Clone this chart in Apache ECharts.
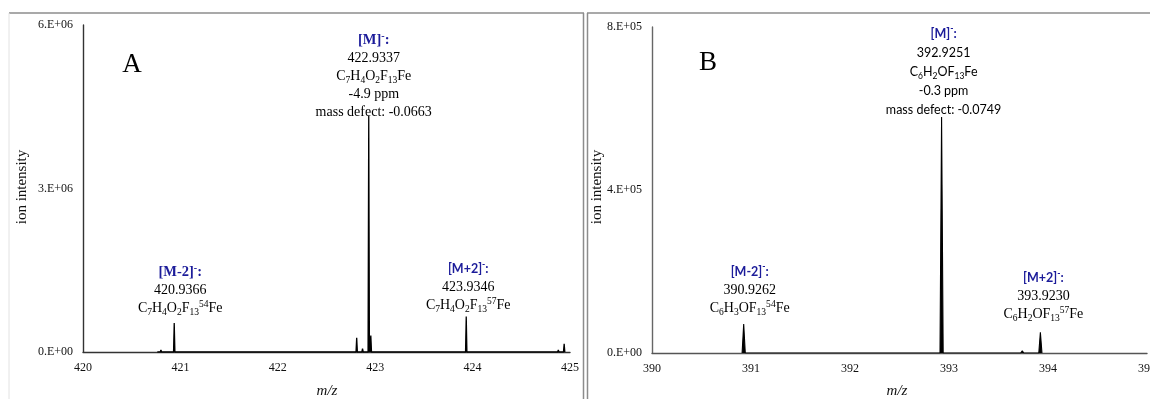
<!DOCTYPE html>
<html>
<head>
<meta charset="utf-8">
<title>Fe adduct spectra</title>
<script src="https://cdn.jsdelivr.net/npm/echarts@6/dist/echarts.min.js"></script>
<style>
  html, body { margin: 0; padding: 0; background: #fff; }
  #chart { width: 1150px; height: 399px; }
</style>
</head>
<body>
<div id="chart"></div>
<script>
// ---- panel A data (m/z, ion intensity) ----
const mzA = [420.77, 420.80, 420.9366, 421.98, 422.81, 422.87, 422.9337, 422.955, 423.9346, 424.80, 424.88, 424.94];
const intensityA = [30000, 40000, 530000, 30000, 260000, 60000, 4330000, 300000, 650000, 30000, 40000, 150000];
const xTicksA = [420, 425];
const yTicksA = [0, 6000000];

// annotated peaks in A
const labelMzA = [420.9366, 422.9337, 423.9346];
const ionA = ["M-2", "M", "M+2"];
const formulaA = ["C7H4O2F13^54Fe", "C7H4O2F13Fe", "C7H4O2F13^57Fe"];
const ppmA = ["", "-4.9 ppm", ""];
const defectA = ["", "-0.0663", ""];

// ---- panel B data ----
const mzB = [390.9262, 392.9251, 393.74, 393.9230];
const intensityB = [71000, 579000, 5000, 51000];
const xTicksB = [390, 395];
const yTicksB = [0, 800000];

const labelMzB = [390.9262, 392.9251, 393.9230];
const ionB = ["M-2", "M", "M+2"];
const formulaB = ["C6H3OF13^54Fe", "C6H2OF13Fe", "C6H2OF13^57Fe"];
const ppmB = ["", "-0.3 ppm", ""];
const defectB = ["", "-0.0749", ""];

const SERIF = "Liberation Serif";
const SANS = "Lato";
const BLUE = "#1c1c9a";

// profile peaks: each peak drawn as a thin triangle from the baseline
function spectrum(mz, ints, hw) {
  let d = [];
  mz.forEach((m, i) => {
    d.push([m - hw, 0], [m, ints[i]], [m + hw, 0]);
  });
  return d;
}

function sci(v) {
  if (v === 0) return "0.E+00";
  let e = Math.floor(Math.log10(v));
  let m = Math.round(v / Math.pow(10, e));
  return m + ".E+" + String(e).padStart(2, "0");
}

// "C7H4O2F13^54Fe" -> rich tokens, digits after letters are subscripts, ^nn superscript
function formulaRich(f, s) {
  let out = "";
  let re = /\^(\d+)|([A-Za-z]+)|(\d+)/g;
  let m;
  while ((m = re.exec(f))) {
    if (m[1]) out += "{sup" + s + "|" + m[1] + "}";
    else if (m[2]) out += "{t" + s + "|" + m[2] + "}";
    else out += "{sub" + s + "|" + m[3] + "}";
  }
  return out;
}

function header(ion, s) {
  return "{hd" + s + "|[" + ion + "]}{hs" + s + "|-}{hd" + s + "|:}";
}

function richSet(family, size, lh) {
  return {
    t: { fontFamily: family, fontSize: size, lineHeight: lh, color: "#000", align: "center" },
    sub: { fontFamily: family, fontSize: size * 0.68, lineHeight: 11, verticalAlign: "bottom", color: "#000", align: "center" },
    sup: { fontFamily: family, fontSize: size * 0.68, lineHeight: 11, verticalAlign: "top", color: "#000", align: "center" },
  };
}

function headerSet(family, size, lh) {
  return {
    hd: { fontFamily: family, fontSize: size, fontWeight: "bold", lineHeight: lh, color: BLUE, align: "center" },
    hs: { fontFamily: family, fontSize: size * 0.7, fontWeight: "bold", lineHeight: 11, verticalAlign: "top", color: BLUE, align: "center" },
  };
}

function renameKeys(obj, suffix) {
  let o = {};
  Object.keys(obj).forEach((k) => (o[k + suffix] = obj[k]));
  return o;
}

const rich = Object.assign(
  {},
  renameKeys(richSet(SERIF, 14, 18), "R"),
  renameKeys(richSet(SANS, 12.5, 19), "S"),
  renameKeys(headerSet(SERIF, 14.5, 18), "R"),
  renameKeys(headerSet(SANS, 12.5, 19), "S")
);

// style codes per annotation: [header font, body font]
const fontsA = [["R", "R"], ["R", "R"], ["S", "R"]];
const fontsB = [["S", "R"], ["S", "S"], ["S", "R"]];
// label placement relative to the peak top: [dx, gap]
const placeA = [[6, 6], [5, -5], [2, 2]];
const placeB = [[6, 7], [2, -2], [3, 9]];

function labelText(i, ion, formula, ppm, defect, fonts, mzList) {
  let h = fonts[i][0], b = fonts[i][1];
  let lines = [header(ion[i], h), "{t" + b + "|" + mzList[i].toFixed(4) + "}", formulaRich(formula[i], b)];
  if (ppm[i]) lines.push("{t" + b + "|" + ppm[i] + "}");
  if (defect[i]) lines.push("{t" + b + "|mass defect: " + defect[i] + "}");
  return lines.join("\n");
}

function labelData(labelMz, mz, ints, place) {
  return labelMz.map((m, i) => ({
    value: [m, ints[mz.indexOf(m)]],
    label: { offset: [place[i][0], 0], distance: place[i][1] },
  }));
}

function xAxis(gi, ticks, color) {
  return {
    type: "value",
    gridIndex: gi,
    min: ticks[0],
    max: ticks[1],
    interval: 1,
    axisLine: { lineStyle: { color: color, width: 1.4 } },
    axisTick: { show: false },
    splitLine: { show: false },
    axisLabel: { fontFamily: SERIF, fontSize: 12, color: "#111", margin: 10 },
  };
}

function yAxis(gi, ticks, color) {
  return {
    type: "value",
    gridIndex: gi,
    min: ticks[0],
    max: ticks[1],
    interval: ticks[1] / 2,
    axisLine: { show: true, lineStyle: { color: color, width: 1.4 } },
    axisTick: { show: false },
    splitLine: { show: false },
    axisLabel: { fontFamily: SERIF, fontSize: 12, color: "#111", margin: 10, formatter: sci },
  };
}

function labelSeries(gi, data, texter) {
  return {
    type: "scatter",
    xAxisIndex: gi,
    yAxisIndex: gi,
    symbolSize: 0,
    silent: true,
    itemStyle: { opacity: 1 },
    data: data,
    label: {
      show: true,
      position: "top",
      opacity: 1,
      rich: rich,
      formatter: (p) => texter(p.dataIndex),
    },
  };
}

let myChart = echarts.init(document.getElementById("chart"));

let option = {
  animation: false,
  backgroundColor: "#fff",
  grid: [
    { left: 83, top: 25, width: 487, height: 327, outerBoundsMode: "none" },
    { left: 652, top: 27, width: 495, height: 326, outerBoundsMode: "none" },
  ],
  xAxis: [xAxis(0, xTicksA, "#333"), xAxis(1, xTicksB, "#555")],
  yAxis: [yAxis(0, yTicksA, "#333"), yAxis(1, yTicksB, "#666")],
  series: [
    {
      type: "line",
      xAxisIndex: 0,
      yAxisIndex: 0,
      symbol: "none",
      lineStyle: { color: "#000", width: 1.3 },
      areaStyle: { color: "#000", opacity: 1 },
      data: spectrum(mzA, intensityA, 0.007),
    },
    {
      type: "line",
      xAxisIndex: 1,
      yAxisIndex: 1,
      symbol: "none",
      lineStyle: { color: "#000", width: 1.1 },
      areaStyle: { color: "#000", opacity: 1 },
      data: spectrum(mzB, intensityB, 0.016),
    },
    labelSeries(0, labelData(labelMzA, mzA, intensityA, placeA), (i) =>
      labelText(i, ionA, formulaA, ppmA, defectA, fontsA, labelMzA)
    ),
    labelSeries(1, labelData(labelMzB, mzB, intensityB, placeB), (i) =>
      labelText(i, ionB, formulaB, ppmB, defectB, fontsB, labelMzB)
    ),
  ],
  graphic: [
    // panel frames
    { type: "line", shape: { x1: 9, y1: 13, x2: 584, y2: 13 }, style: { stroke: "#8c8c8c", lineWidth: 1.5 } },
    { type: "line", shape: { x1: 9, y1: 13, x2: 9, y2: 399 }, style: { stroke: "#e2e2e2", lineWidth: 1 } },
    { type: "line", shape: { x1: 583.5, y1: 13, x2: 583.5, y2: 399 }, style: { stroke: "#8c8c8c", lineWidth: 1.5 } },
    { type: "line", shape: { x1: 587.5, y1: 13, x2: 587.5, y2: 399 }, style: { stroke: "#8c8c8c", lineWidth: 1.5 } },
    { type: "line", shape: { x1: 587, y1: 13, x2: 1150, y2: 13 }, style: { stroke: "#8c8c8c", lineWidth: 1.5 } },
    // panel letters
    { type: "text", x: 132, y: 65, style: { text: "A", font: "27px '" + SERIF + "'", fill: "#000", align: "center", verticalAlign: "middle" } },
    { type: "text", x: 708, y: 63, style: { text: "B", font: "27px '" + SERIF + "'", fill: "#000", align: "center", verticalAlign: "middle" } },
    // axis names
    { type: "text", x: 22, y: 187, rotation: Math.PI / 2, style: { text: "ion intensity", font: "15px '" + SERIF + "'", fill: "#111", align: "center", verticalAlign: "middle" } },
    { type: "text", x: 597, y: 187, rotation: Math.PI / 2, style: { text: "ion intensity", font: "15px '" + SERIF + "'", fill: "#111", align: "center", verticalAlign: "middle" } },
    { type: "text", x: 327, y: 391, style: { text: "m/z", font: "italic 15px '" + SERIF + "'", fill: "#111", align: "center", verticalAlign: "middle" } },
    { type: "text", x: 897, y: 391, style: { text: "m/z", font: "italic 15px '" + SERIF + "'", fill: "#111", align: "center", verticalAlign: "middle" } },
  ],
};

myChart.setOption(option);
</script>
</body>
</html>
